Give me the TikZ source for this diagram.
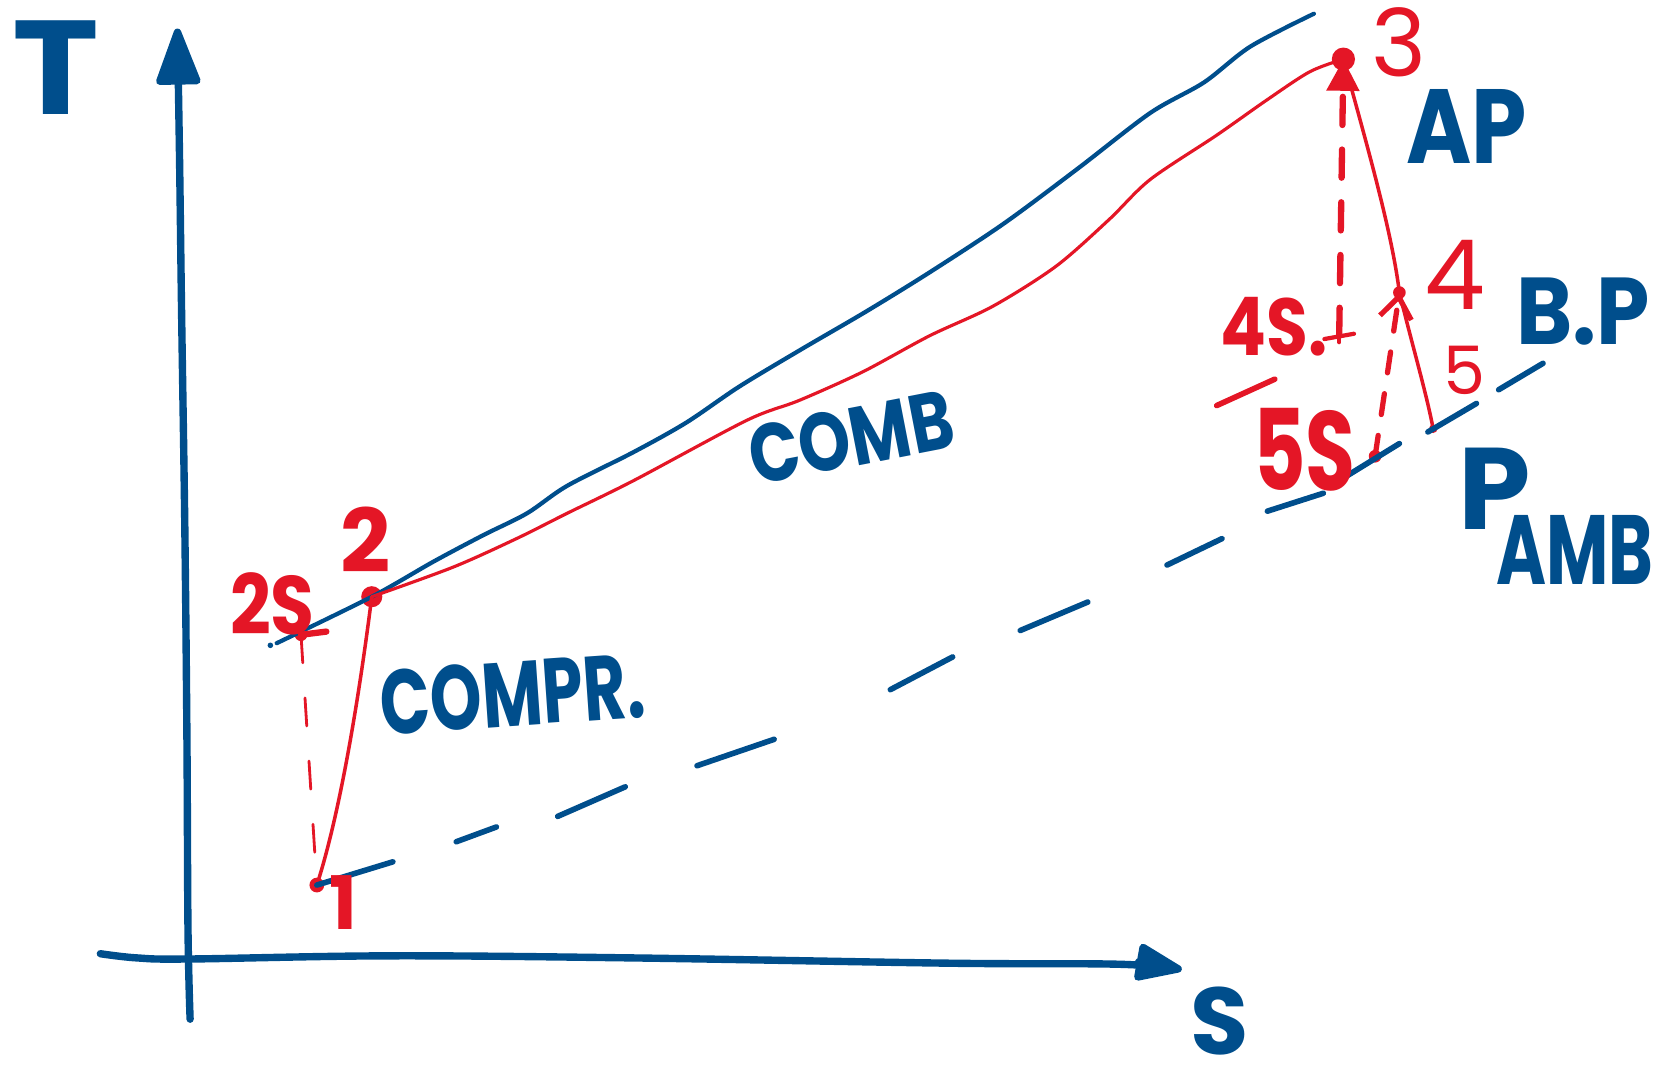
\documentclass[tikz,border=0pt]{standalone}
\usepackage{fontspec}
\setmainfont{Poppins}
\usepackage{graphicx}
\usetikzlibrary{arrows.meta}
\definecolor{pblue}{RGB}{0,78,140}
\definecolor{pred}{RGB}{228,22,38}
\newcommand{\fsz}[1]{\fontsize{#1}{#1}\selectfont}
\begin{document}
\begin{tikzpicture}[x=0.010561cm, y=-0.010561cm, line cap=round, line join=round,
  axisline/.style={draw=pblue, line width=2.1pt},
  apline/.style={draw=pblue, line width=1.2pt},
  combline/.style={draw=pred, line width=0.9pt},
  procline/.style={draw=pred, line width=1pt},
  isodash/.style={draw=pred, line width=0.8pt, dash pattern=on 8pt off 10pt},
  thickdash/.style={draw=pred, line width=1.8pt, dash pattern=on 8pt off 7pt},
  middash/.style={draw=pred, line width=1.5pt, dash pattern=on 6pt off 6pt},
  ambdash/.style={draw=pblue, line width=1.6pt},
  rdot/.style={circle, fill=pred, inner sep=0pt, minimum size=#1},
  bluelab/.style={text=pblue, inner sep=0pt, font=\bfseries},
  redlab/.style={text=pred, inner sep=0pt},
]
\useasboundingbox (0,0) rectangle (1568,1016);

% axes
\coordinate (yb) at (180,965);
\coordinate (yt) at (168,27);
\coordinate (xl) at (95,903);
\coordinate (xr) at (1119,918);
\draw[axisline, -{Triangle[length=18pt, width=13pt, round]}]
  plot[smooth, tension=0.6] coordinates {(yb) (178,880) (177,700) (175,500) (172,300) (170,150) (yt)};
\draw[axisline, -{Triangle[length=15pt, width=11pt, round]}]
  plot[smooth, tension=0.6] coordinates {(xl) (130,907) (180,908) (370,905) (600,907) (900,912) (1060,913) (xr)};
\node[bluelab, font=\bfseries\fsz{38}] (lT) at (53,64) {\scalebox{1.1}[1]{T}};
\node[bluelab, font=\bfseries\fsz{27}] (lS) at (1155,967) {S};

% state points
\node[rdot=4.2pt] (p1) at (300,838) {};
\node[rdot=3.6pt] (p2s) at (285,601) {};
\node[rdot=6pt] (p2) at (352,565) {};
\node[rdot=6.6pt] (p3) at (1272,56) {};
\node[rdot=3.6pt] (p4) at (1325,277) {};
\coordinate (p4s) at (1268,318);
\node[rdot=2.4pt] (p5) at (1357,406) {};
\node[rdot=3.6pt] (p5s) at (1302,432) {};

% high pressure isobar (AP)
\draw[apline] plot[smooth, tension=0.5] coordinates {(262,609) (p2.center) (410,532) (457,507) (499,486) (537,460) (600,428) (650,400) (700,366) (760,330) (820,295) (880,258) (950,212) (1020,160) (1089,107) (1140,78) (1184,44) (1244,13)};
\fill[pblue] (256,611) circle (0.8pt);

% combustion
\draw[combline] plot[smooth, tension=0.5] coordinates {(p2.center) (429,537) (489,510) (537,486) (600,455) (707,398) (757,379) (817,352) (880,318) (940,290) (1000,252) (1050,208) (1089,170) (1152,128) (1199,95) (1240,68) (p3.center)};

% compression
\draw[procline] (p1.center) .. controls (322,770) and (340,660) .. (p2.center);
\draw[isodash] (p2s.center) -- (p1.center);
\draw[pred, line width=1.8pt] (p2s.center) -- (309,598);

% expansion
\draw[procline] (p3.center) .. controls (1295,140) and (1318,220) .. (p4.center);
\draw[procline] (p4.center) .. controls (1338,330) and (1350,370) .. (p5.center);
\draw[thickdash, -{Triangle[length=9pt, width=9pt]}] (p4s) -- (p3.center);
\draw[middash, -{Straight Barb[length=6pt, width=9pt]}] (p5s.center) -- (p4.center);
\draw[pred, line width=1.2pt] (1254,321) -- (1282,316);
\draw[pred, line width=1.2pt] (1268,312) -- (1268,324);

% ambient isobar (dashed)
\draw[ambdash] (p1.center) -- (372,816);
\foreach \a/\b/\c/\d in {432/797/470/783, 528/773/592/745, 660/725/733/700, 843/653/902/622, 966/597/1030/570, 1105/535/1157/510, 1200/484/1253/467, 1273/452/1325/420, 1352/409/1398/382, 1419/369/1461/344}
  \draw[ambdash] (\a,\b) -- (\c,\d);
\draw[pred, line width=1.6pt] (1152,384) -- (1207,359);

% red labels
\node[redlab, font=\bfseries\fsz{21}] (l1) at (325,855) {1};
\node[redlab, font=\bfseries\fsz{25}] (l2) at (346,511) {2};
\node[redlab, font=\bfseries\fsz{23.6}] (l2s) at (258,572) {\scalebox{0.86}[1]{2S}};
\node[redlab, font=\fsz{26.6}] (l3) at (1325,40) {3};
\node[redlab, font=\fsz{27.5}] (l4) at (1378,260) {4};
\node[redlab, font=\fsz{19}] (l5) at (1387,351) {5};
\node[redlab, font=\bfseries\fsz{23}, anchor=south west] (l4s) at (1155,338) {\scalebox{0.84}[1]{4S.}};
\node[redlab, font=\bfseries\fsz{32}] (l5s) at (1235,426) {\scalebox{0.72}[1]{5S}};

% blue labels
\node[bluelab, font=\bfseries\fsz{23.5}, rotate=11] (lcomb) at (806,414) {\scalebox{0.8}[1]{COMB}};
\node[bluelab, font=\bfseries\fsz{26}, rotate=4] (lcompr) at (485,657) {\scalebox{0.72}[1]{COMPR.}};
\node[bluelab, font=\bfseries\fsz{30}] (lap) at (1389,120) {\scalebox{0.84}[1]{AP}};
\node[bluelab, font=\bfseries\fsz{27}] (lbp) at (1499,295) {\scalebox{0.9}[1]{B.P}};
\node[bluelab, font=\bfseries\fsz{33}] (lpamb) at (1415,463) {P};
\node[bluelab, font=\bfseries\fsz{28}] (lamb) at (1491,521) {\scalebox{0.69}[1]{AMB}};
\end{tikzpicture}
\end{document}
